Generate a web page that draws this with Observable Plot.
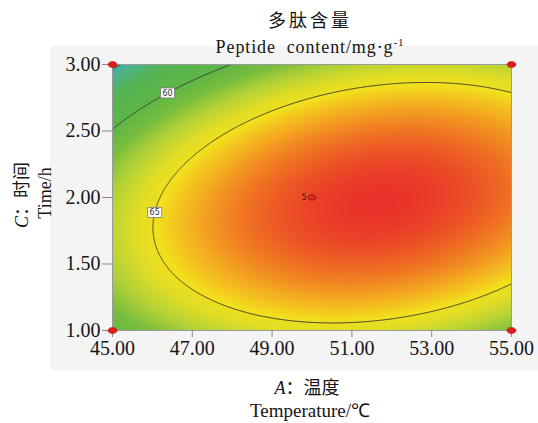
<!DOCTYPE html>
<html>
<head>
<meta charset="utf-8">
<script src="https://cdn.jsdelivr.net/npm/d3@7"></script>
<script src="https://cdn.jsdelivr.net/npm/@observablehq/plot@0.6"></script>
<style>
  html, body { margin: 0; padding: 0; background: #ffffff; }
  #chart { width: 538px; height: 423px; position: relative; }
</style>
</head>
<body>
<div id="chart"></div>
<script>
// Quadratic response-surface model in coded units:
// A = (temperature - 50) / 5, C = (time - 2) / 1
const terms = ["Intercept", "A", "C", "AC", "A²", "C²"];
const coefficients = [68.91, 2.45, -1.05, 1.82, -3.52, -5.55];
const tempCenter = 50, tempStep = 5;
const timeCenter = 2, timeStep = 1;

// Experimental domain and axis ticks
const tempDomain = [45, 55];
const timeDomain = [1, 3];
const tempTicks = [45, 47, 49, 51, 53, 55];
const timeTicks = [1.0, 1.5, 2.0, 2.5, 3.0];

// Contour levels and where their labels sit
const contourLevels = [55, 60, 65];
const labelLevels = [60, 65];
const labelTemps = [46.38, null];
const labelTimes = [null, 1.887];

// Design points in this slice (the centre point was run 5 times)
const designTemp = [45, 55, 45, 55, 50];
const designTime = [1, 1, 3, 3, 2];
const replicates = [1, 1, 1, 1, 5];

// Colour ramp of the surface
const colorStops = [54.5, 56, 57.5, 60, 61.5, 63, 64.3, 65.2, 66.5, 68, 69.4];
const colorRamp = ["#3bb2b6", "#4cb386", "#55b455", "#5db646", "#78bd3e", "#b4d236",
                   "#e0dd26", "#f2df1c", "#f4ac20", "#ef6c23", "#e8302a"];

function response(T, t) {
  const a = (T - tempCenter) / tempStep;
  const c = (t - timeCenter) / timeStep;
  const [b0, bA, bC, bAC, bAA, bCC] = coefficients;
  return b0 + bA * a + bC * c + bAC * a * c + bAA * a * a + bCC * c * c;
}

// bisection for the point of a contour along one line
function bisect(g, lo, hi, level) {
  let flo = g(lo) - level;
  for (let i = 0; i < 60; i++) {
    const mid = (lo + hi) / 2, fm = g(mid) - level;
    if ((fm < 0) === (flo < 0)) { lo = mid; flo = fm; } else { hi = mid; }
  }
  return (lo + hi) / 2;
}

const labels = labelLevels.map((level, i) => {
  if (labelTemps[i] != null) {
    const T = labelTemps[i];
    return {level, T, t: bisect(t => response(T, t), timeCenter, timeDomain[1], level)};
  }
  const t = labelTimes[i];
  return {level, t, T: bisect(T => response(T, t), tempDomain[0], tempCenter, level)};
});

const design = designTemp.map((T, i) => ({T, t: designTime[i], n: replicates[i]}));

function ellipseSymbol(rx, ry) {
  const k = 0.5523;
  return {
    draw(ctx) {
      ctx.moveTo(rx, 0);
      ctx.bezierCurveTo(rx, ry * k, rx * k, ry, 0, ry);
      ctx.bezierCurveTo(-rx * k, ry, -rx, ry * k, -rx, 0);
      ctx.bezierCurveTo(-rx, -ry * k, -rx * k, -ry, 0, -ry);
      ctx.bezierCurveTo(rx * k, -ry, rx, -ry * k, rx, 0);
      ctx.closePath();
    }
  };
}
function boxSymbol(w, h) {
  return { draw(ctx) { ctx.rect(-w / 2, -h / 2, w, h); } };
}

const serif = "'Liberation Serif', 'Times New Roman', serif";
const cjk = "'Noto Sans CJK SC', sans-serif";

const chart = Plot.plot({
  width: 538,
  height: 423,
  marginLeft: 112,
  marginRight: 27,
  marginTop: 64,
  marginBottom: 93,
  x: {domain: tempDomain},
  y: {domain: timeDomain},
  color: {type: "linear", domain: colorStops, range: colorRamp, interpolate: "rgb", clamp: true},
  style: {fontFamily: serif, fontSize: "20px", background: "transparent", overflow: "visible", color: "#151515"},
  marks: [
    Plot.raster({x1: tempDomain[0], x2: tempDomain[1], y1: timeDomain[0], y2: timeDomain[1],
      fill: (T, t) => response(T, t), pixelSize: 1}),
    Plot.contour({x1: 44, x2: 56, y1: 0.5, y2: 3.5, value: (T, t) => response(T, t),
      thresholds: contourLevels, fill: "none", stroke: "#3b3b30", strokeWidth: 0.9,
      pixelSize: 1, clip: true}),
    Plot.frame({stroke: "#9a9a9a", strokeWidth: 1}),
    Plot.axisX({ticks: tempTicks, tickSize: 7, tickPadding: 3, tickFormat: d3.format(".2f"),
      stroke: "#8a8a8a", fill: "#151515", label: null}),
    Plot.axisY({ticks: timeTicks, tickSize: 10, tickPadding: 2, tickFormat: d3.format(".2f"),
      stroke: "#8a8a8a", fill: "#151515", label: null}),
    Plot.dot(labels, {x: "T", y: "t", symbol: boxSymbol(14, 10), fill: "white", stroke: "#777", strokeWidth: 0.8}),
    Plot.text(labels, {x: "T", y: "t", text: d => String(d.level), fontSize: 8,
      fontFamily: "'DejaVu Sans', sans-serif", fill: "#333"}),
    Plot.dot(design.filter(d => d.n === 1), {x: "T", y: "t", symbol: ellipseSymbol(4.5, 3),
      fill: "#e11d1b", stroke: "#b51410", strokeWidth: 0.6}),
    Plot.dot(design.filter(d => d.n > 1), {x: "T", y: "t", symbol: ellipseSymbol(4, 2.6),
      fill: "#e8261e", stroke: "#5c1410", strokeWidth: 0.8}),
    Plot.text(design.filter(d => d.n > 1), {x: "T", y: "t", text: d => String(d.n), dx: -8,
      fontSize: 8, fontFamily: "'DejaVu Sans', sans-serif", fill: "#3a1a10"})
  ]
});

const svg = d3.select(chart);
// light grey panel behind the plot
svg.insert("rect", ":first-child")
  .attr("x", 50).attr("y", 46).attr("width", 488).attr("height", 324)
  .attr("fill", "#f4f4f4");

// titles
svg.append("text").attr("x", 310).attr("y", 27).attr("text-anchor", "middle")
  .attr("font-family", cjk).attr("font-size", 18).attr("letter-spacing", 3).attr("fill", "#151515")
  .text("多肽含量");
const sub = svg.append("text").attr("x", 310).attr("y", 53).attr("text-anchor", "middle")
  .attr("font-family", serif).attr("font-size", 18).attr("letter-spacing", 0.9).attr("fill", "#151515");
sub.append("tspan").text("Peptide\u00a0\u00a0content/mg·g");
sub.append("tspan").attr("font-size", 11).attr("dy", -7).text("-1");

// y-axis title (two rotated lines)
const yl1 = svg.append("text").attr("transform", "translate(28,195) rotate(-90)")
  .attr("text-anchor", "middle").attr("font-size", 18).attr("fill", "#151515");
yl1.append("tspan").attr("font-family", serif).attr("font-style", "italic").text("C");
yl1.append("tspan").attr("font-family", cjk).text("：时间");
svg.append("text").attr("transform", "translate(51,193) rotate(-90)")
  .attr("text-anchor", "middle").attr("font-family", serif).attr("font-size", 18).attr("fill", "#151515")
  .text("Time/h");

// x-axis title
const xl1 = svg.append("text").attr("x", 307).attr("y", 394).attr("text-anchor", "middle")
  .attr("font-size", 18).attr("fill", "#151515");
xl1.append("tspan").attr("font-family", serif).attr("font-style", "italic").text("A");
xl1.append("tspan").attr("font-family", cjk).text("：温度");
svg.append("text").attr("x", 310).attr("y", 417).attr("text-anchor", "middle")
  .attr("font-family", serif).attr("font-size", 19).attr("fill", "#151515")
  .text("Temperature/℃");

document.getElementById("chart").appendChild(chart);
</script>
</body>
</html>
